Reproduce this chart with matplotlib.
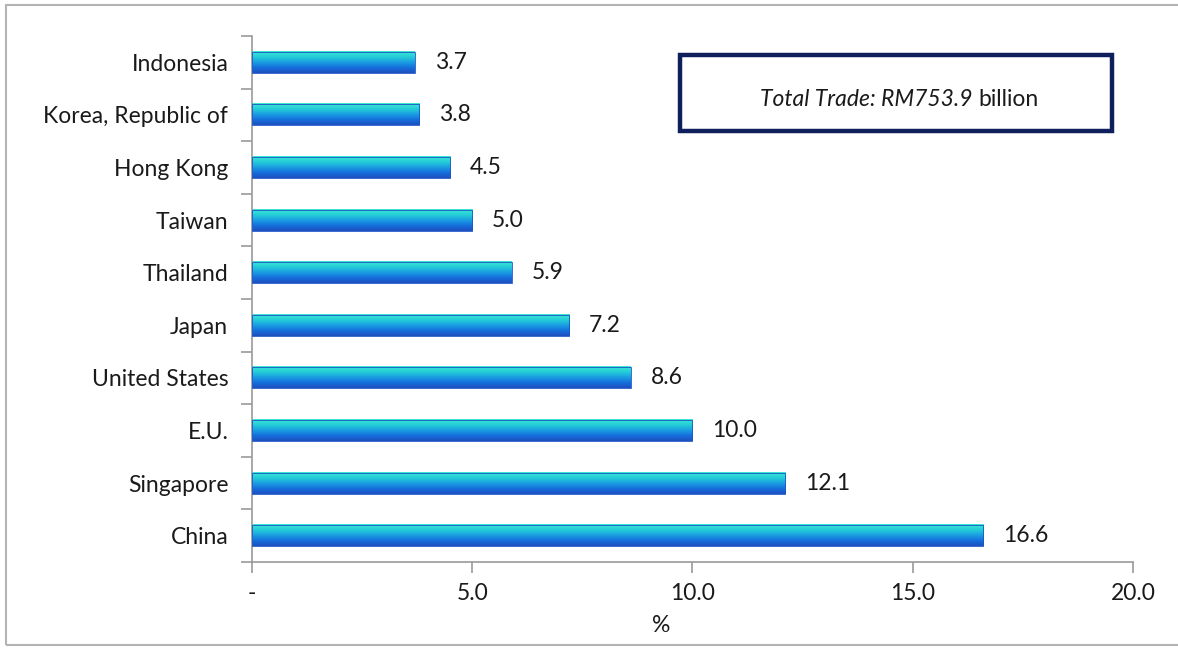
import matplotlib
matplotlib.use("Agg")
import matplotlib.pyplot as plt
import numpy as np
from matplotlib.colors import LinearSegmentedColormap
from matplotlib.patches import Rectangle

# Share of total trade by partner (%), bottom to top
countries = ["China", "Singapore", "E.U.", "United States", "Japan",
             "Thailand", "Taiwan", "Hong Kong", "Korea, Republic of", "Indonesia"]
shares = [16.6, 12.1, 10.0, 8.6, 7.2, 5.9, 5.0, 4.5, 3.8, 3.7]
xticks = [0, 5, 10, 15, 20]
xtick_labels = ["-", "5.0", "10.0", "15.0", "20.0"]

plt.rcParams["font.family"] = ["Lato", "DejaVu Sans"]
FS = 16.5
TXT = "#1a1a1a"

fig = plt.figure(figsize=(11.78, 6.48), dpi=100)
ax = fig.add_axes([0.2139, 0.1327, 0.7479, 0.8117])

# vertical teal -> blue gradient for each bar
grad = LinearSegmentedColormap.from_list(
    "bar", ["#1e4fc0", "#1470dc", "#1a9fe2", "#25cfd6", "#3ee6d2"])
gradient = np.linspace(0, 1, 64).reshape(-1, 1)
bar_h = 0.4

for i, v in enumerate(shares):
    ax.imshow(gradient, cmap=grad, aspect="auto", origin="lower",
              extent=[0, v, i - bar_h / 2, i + bar_h / 2], zorder=2)
    ax.add_patch(Rectangle((0, i - bar_h / 2), v, bar_h, fill=False,
                           edgecolor="#1a55c8", lw=0.6, zorder=3))
    ax.text(v + 0.45, i, f"{v:.1f}", va="center", ha="left",
            fontsize=FS, color=TXT)

ax.set_xlim(0, 20)
ax.set_ylim(-0.5, len(countries) - 0.5)
ax.set_yticks(range(len(countries)))
ax.set_yticklabels(countries, fontsize=FS, color=TXT)
ax.set_yticks(np.arange(-0.5, len(countries), 1), minor=True)
ax.tick_params(axis="y", which="major", length=0, pad=17)
ax.tick_params(axis="y", which="minor", length=8, color="#9a9a9a", width=1.2)
ax.set_xticks(xticks)
ax.set_xticklabels(xtick_labels, fontsize=FS, color=TXT)
ax.tick_params(axis="x", length=8, color="#9a9a9a", width=1.2, pad=7)
ax.set_xlabel("%", fontsize=FS, color=TXT)
ax.xaxis.set_label_coords(0.465, -0.1)

for side in ["top", "right"]:
    ax.spines[side].set_visible(False)
for side in ["left", "bottom"]:
    ax.spines[side].set_color("#9a9a9a")
    ax.spines[side].set_linewidth(1.2)

# total trade box
box = Rectangle((680 / 1178, 1 - 131 / 648), 432 / 1178, 76 / 648,
                transform=fig.transFigure, fill=False,
                edgecolor="#0f1f5c", lw=3.2)
fig.patches.append(box)
split_x = 978 / 1178
fig.text(split_x, 1 - 99 / 648, "Total Trade: RM753.9 ", ha="right", va="center",
         fontsize=FS, style="italic", color=TXT)
fig.text(split_x, 1 - 99 / 648, "billion", ha="left", va="center",
         fontsize=FS, color=TXT)

# outer frame
frame = Rectangle((6 / 1178, 3 / 648), 1.2, 1 - 8 / 648,
                  transform=fig.transFigure, fill=False,
                  edgecolor="#b4b4b4", lw=1.5)
fig.patches.append(frame)

fig.savefig("out.png", dpi=100)
